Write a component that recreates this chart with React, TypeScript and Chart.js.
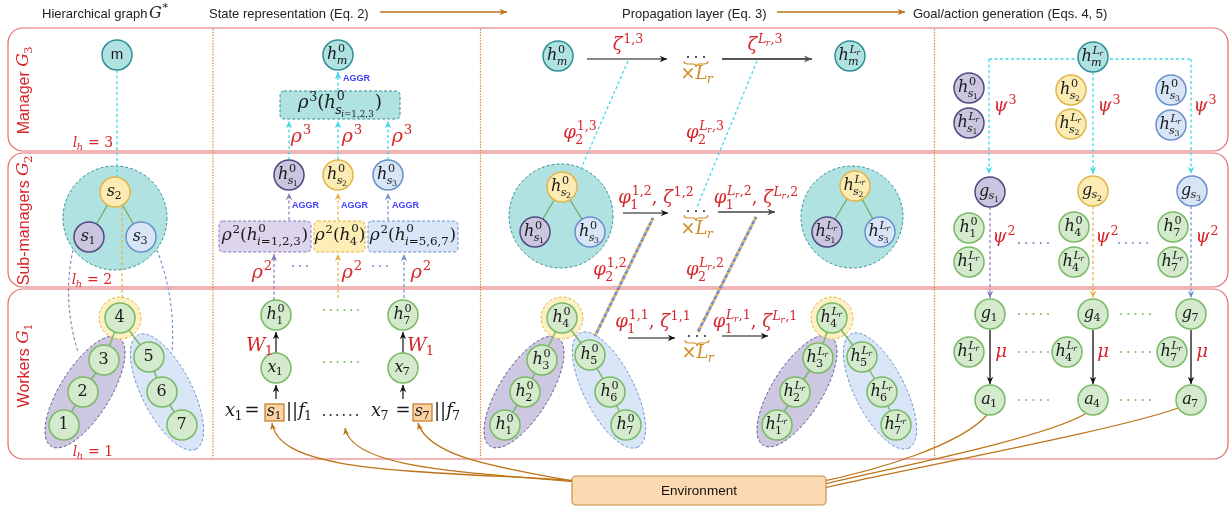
import React, { useEffect, useRef } from 'react';
import { Chart, registerables } from 'chart.js';

Chart.register(...registerables);

// ---------------- data ----------------
const headerTitles = ['Hierarchical graph', 'State representation (Eq. 2)', 'Propagation layer (Eq. 3)', 'Goal/action generation (Eqs. 4, 5)'];
const rowTitles = ['Manager', 'Sub-managers', 'Workers'];
const rowLevels = ['3', '2', '1'];
const envLabel = 'Environment';

type NodeRow = [number, number, string];

const tealNodes: NodeRow[] = [
  [117, 55, '#m'],
  [338, 55, 'h^0_m'],
  [558, 56, 'h^0_m'],
  [850, 56, 'h^{L_r}_m'],
  [1093, 57, 'h^{L_r}_m'],
];
const purpleNodes: NodeRow[] = [
  [89, 237, 's_1'],
  [289, 175, 'h^0_{s_1}'],
  [535, 232, 'h^0_{s_1}'],
  [827, 232, 'h^{L_r}_{s_1}'],
  [969, 88, 'h^0_{s_1}'],
  [969, 123, 'h^{L_r}_{s_1}'],
  [990, 192, 'g_{s_1}'],
];
const yellowNodes: NodeRow[] = [
  [115, 192, 's_2'],
  [338, 175, 'h^0_{s_2}'],
  [562, 187, 'h^0_{s_2}'],
  [855, 186, 'h^{L_r}_{s_2}'],
  [1071, 90, 'h^0_{s_2}'],
  [1071, 124, 'h^{L_r}_{s_2}'],
  [1093, 191, 'g_{s_2}'],
];
const blueNodes: NodeRow[] = [
  [141, 237, 's_3'],
  [388, 175, 'h^0_{s_3}'],
  [590, 232, 'h^0_{s_3}'],
  [880, 232, 'h^{L_r}_{s_3}'],
  [1171, 90, 'h^0_{s_3}'],
  [1171, 125, 'h^{L_r}_{s_3}'],
  [1192, 191, 'g_{s_3}'],
];
const greenNodes: NodeRow[] = [
  [64, 425, '1'], [83, 392, '2'], [104, 360, '3'], [120, 318, '4'], [149, 357, '5'], [162, 392, '6'], [182, 425, '7'],
  [276, 315, 'h^0_1'], [403, 315, 'h^0_7'], [276, 368, 'x_1'], [403, 368, 'x_7'],
  [505, 425, 'h^0_1'], [525, 392, 'h^0_2'], [542, 360, 'h^0_3'], [562, 318, 'h^0_4'], [590, 355, 'h^0_5'], [610, 392, 'h^0_6'], [626, 425, 'h^0_7'],
  [777, 425, 'h^{L_r}_1'], [795, 392, 'h^{L_r}_2'], [818, 358, 'h^{L_r}_3'], [832, 318, 'h^{L_r}_4'], [862, 357, 'h^{L_r}_5'], [882, 392, 'h^{L_r}_6'], [896, 425, 'h^{L_r}_7'],
  [969, 228, 'h^0_1'], [969, 262, 'h^{L_r}_1'], [1074, 227, 'h^0_4'], [1074, 262, 'h^{L_r}_4'], [1173, 227, 'h^0_7'], [1173, 262, 'h^{L_r}_7'],
  [990, 314, 'g_1'], [1093, 314, 'g_4'], [1191, 314, 'g_7'],
  [969, 352, 'h^{L_r}_1'], [1067, 352, 'h^{L_r}_4'], [1172, 352, 'h^{L_r}_7'],
  [990, 400, 'a_1'], [1093, 400, 'a_4'], [1191, 400, 'a_7'],
];
const treeEdges: [number, number][] = [[3, 2], [2, 1], [1, 0], [3, 4], [4, 5], [5, 6]];
const treeOffsets = [0, 11, 18];
const subgraphIdx = [0, 2, 3];

const redLabels: [number, number, string, number][] = [
  [93, 143, 'l_h = 3', 15], [92, 280, 'l_h = 2', 15], [93, 452, 'l_h = 1', 15],
  [301, 136, 'ρ^3', 20], [352, 136, 'ρ^3', 20], [402, 136, 'ρ^3', 20],
  [262, 272, 'ρ^2', 20], [352, 272, 'ρ^2', 20], [421, 272, 'ρ^2', 20],
  [260, 345, 'W_1', 20], [421, 345, 'W_1', 20],
  [628, 45, 'ζ^{1,3}', 19], [765, 45, 'ζ^{L_r,3}', 19],
  [580, 133, 'φ^{1,3}_2', 19], [705, 133, 'φ^{L_r,3}_2', 19],
  [656, 198, 'φ^{1,2}_1, ζ^{1,2}', 19], [756, 198, 'φ^{L_r,2}_1, ζ^{L_r,2}', 19],
  [610, 270, 'φ^{1,2}_2', 19], [705, 270, 'φ^{L_r,2}_2', 19],
  [653, 322, 'φ^{1,1}_1, ζ^{1,1}', 19], [755, 322, 'φ^{L_r,1}_1, ζ^{L_r,1}', 19],
  [1005, 106, 'ψ^3', 19], [1109, 106, 'ψ^3', 19], [1205, 106, 'ψ^3', 19],
  [1004, 237, 'ψ^2', 19], [1107, 237, 'ψ^2', 19], [1207, 237, 'ψ^2', 19],
  [1001, 352, 'μ', 19], [1103, 352, 'μ', 19], [1202, 352, 'μ', 19],
];
const aggrLabels: [number, number][] = [[343, 79], [292, 206], [341, 206], [392, 206]];

// ---------------- styles ----------------
const C = {
  red: '#d7262b', panel: '#e26a6a', sep: '#cf8a35', text: '#1a1a1a',
  teal: '#b0e2e2', tealS: '#2f8f96', purple: '#cbc5df', purpleS: '#4f4a80',
  yellow: '#fcecb3', yellowS: '#e2b54a', blue: '#d7e5f7', blueS: '#6a90cb',
  green: '#d3eacd', greenS: '#7bb966', cyan: '#3ddbe6', brown: '#bf7318',
  orange: '#d38b22', aggr: '#4040ff', pDash: '#8a78b8', yDash: '#e8b040', bDash: '#6b91cc',
};
const SERIF = '"DejaVu Serif", "Liberation Serif", serif';
const SANS = '"Liberation Sans", Arial, sans-serif';

// ---------------- math text ----------------
type Atom = { b: string; it: boolean; sup?: Atom[]; sub?: Atom[] };
const ITALIC_RE = /[A-Za-z\u03B1-\u03C9]/;
function parseMath(s: string): Atom[] {
  let i = 0;
  const grp = (): Atom[] => {
    const out: Atom[] = [];
    while (i < s.length) {
      const c = s[i];
      if (c === '}') { i++; break; }
      if (c === '^' || c === '_') {
        i++;
        let g: Atom[];
        if (s[i] === '{') { i++; g = grp(); } else { g = [{ b: s[i], it: ITALIC_RE.test(s[i]) }]; i++; }
        if (!out.length) out.push({ b: '', it: false });
        const last = out[out.length - 1];
        if (c === '^') last.sup = g; else last.sub = g;
        continue;
      }
      if (c === '{') { i++; out.push(...grp()); continue; }
      out.push({ b: c, it: ITALIC_RE.test(c) });
      i++;
    }
    return out;
  };
  return grp();
}
const mf = (size: number, it: boolean) => `${it ? 'italic ' : ''}${size}px ${SERIF}`;
function atomsWidth(ctx: CanvasRenderingContext2D, atoms: Atom[], size: number): number {
  let w = 0;
  for (const a of atoms) w += atomWidth(ctx, a, size);
  return w;
}
function atomWidth(ctx: CanvasRenderingContext2D, a: Atom, size: number): number {
  ctx.font = mf(size, a.it);
  const w = ctx.measureText(a.b).width;
  const ss = size * 0.7;
  const supW = a.sup ? atomsWidth(ctx, a.sup, ss) + (a.it ? size * 0.04 : 0) : 0;
  const subW = a.sub ? atomsWidth(ctx, a.sub, ss) : 0;
  return w + Math.max(supW, subW);
}
function drawAtoms(ctx: CanvasRenderingContext2D, atoms: Atom[], x: number, y: number, size: number) {
  for (const a of atoms) {
    ctx.font = mf(size, a.it);
    ctx.fillText(a.b, x, y);
    const bw = ctx.measureText(a.b).width;
    const ss = size * 0.7;
    if (a.sup) drawAtoms(ctx, a.sup, x + bw + (a.it ? size * 0.04 : 0), y - size * (a.sub ? 0.45 : 0.42), ss);
    if (a.sub) drawAtoms(ctx, a.sub, x + bw - (a.it ? size * 0.04 : 0), y + size * (a.sup ? 0.3 : 0.22), ss);
    x += atomWidth(ctx, a, size);
  }
}
function drawMath(ctx: CanvasRenderingContext2D, s: string, cx: number, cy: number, size: number, color: string, align: 'left' | 'center' | 'right' = 'center') {
  const atoms = parseMath(s);
  ctx.save();
  ctx.fillStyle = color;
  ctx.textAlign = 'left';
  ctx.textBaseline = 'alphabetic';
  const w = atomsWidth(ctx, atoms, size);
  const x0 = align === 'center' ? cx - w / 2 : align === 'right' ? cx - w : cx;
  drawAtoms(ctx, atoms, x0, cy + size * 0.3, size);
  ctx.restore();
  return w;
}

// ---------------- drawing helpers ----------------
function rr(ctx: CanvasRenderingContext2D, x: number, y: number, w: number, h: number, r: number) {
  ctx.beginPath();
  ctx.moveTo(x + r, y);
  ctx.lineTo(x + w - r, y);
  ctx.arcTo(x + w, y, x + w, y + r, r);
  ctx.lineTo(x + w, y + h - r);
  ctx.arcTo(x + w, y + h, x + w - r, y + h, r);
  ctx.lineTo(x + r, y + h);
  ctx.arcTo(x, y + h, x, y + h - r, r);
  ctx.lineTo(x, y + r);
  ctx.arcTo(x, y, x + r, y, r);
  ctx.closePath();
}
function seg(ctx: CanvasRenderingContext2D, x1: number, y1: number, x2: number, y2: number, color: string, width = 1.2, dash: number[] = []) {
  ctx.save();
  ctx.strokeStyle = color; ctx.lineWidth = width; ctx.setLineDash(dash);
  ctx.beginPath(); ctx.moveTo(x1, y1); ctx.lineTo(x2, y2); ctx.stroke();
  ctx.restore();
}
function head(ctx: CanvasRenderingContext2D, x1: number, y1: number, x2: number, y2: number, color: string, len = 6, wid = 3) {
  const a = Math.atan2(y2 - y1, x2 - x1);
  ctx.save();
  ctx.fillStyle = color; ctx.setLineDash([]);
  ctx.beginPath();
  ctx.moveTo(x2, y2);
  ctx.lineTo(x2 - len * Math.cos(a) + wid * Math.sin(a), y2 - len * Math.sin(a) - wid * Math.cos(a));
  ctx.lineTo(x2 - len * 0.7 * Math.cos(a), y2 - len * 0.7 * Math.sin(a));
  ctx.lineTo(x2 - len * Math.cos(a) - wid * Math.sin(a), y2 - len * Math.sin(a) + wid * Math.cos(a));
  ctx.closePath(); ctx.fill();
  ctx.restore();
}
function arrow(ctx: CanvasRenderingContext2D, x1: number, y1: number, x2: number, y2: number, color: string, width = 1.2, dash: number[] = []) {
  seg(ctx, x1, y1, x2, y2, color, width, dash);
  head(ctx, x1, y1, x2, y2, color, 6 + width, 2.6 + width * 0.5);
}
function dots(ctx: CanvasRenderingContext2D, x1: number, x2: number, y: number, n: number, color: string, r = 1) {
  ctx.save(); ctx.fillStyle = color;
  for (let i = 0; i < n; i++) {
    const x = x1 + (x2 - x1) * (n === 1 ? 0 : i / (n - 1));
    ctx.beginPath(); ctx.arc(x, y, r, 0, Math.PI * 2); ctx.fill();
  }
  ctx.restore();
}

// ---------------- plugin ----------------
const diagramPlugin = {
  id: 'diagram',
  beforeDatasetsDraw(chart: any) {
    const ctx: CanvasRenderingContext2D = chart.ctx;
    const X = (v: number) => chart.scales.x.getPixelForValue(v);
    const Y = (v: number) => chart.scales.y.getPixelForValue(v);
    ctx.save();

    // panels
    ctx.strokeStyle = C.panel; ctx.lineWidth = 1.2;
    [[28, 151], [153, 287], [289, 459]].forEach(([t, b]) => {
      rr(ctx, X(8), Y(t), X(1228) - X(8), Y(b) - Y(t), 15); ctx.stroke();
    });
    // separators
    [213, 480.5, 934.5].forEach((x) => seg(ctx, X(x), Y(29), X(x), Y(458), C.sep, 1.2, [1.4, 1.4]));

    // headers
    ctx.fillStyle = '#222'; ctx.font = `13px ${SANS}`; ctx.textBaseline = 'alphabetic'; ctx.textAlign = 'left';
    ctx.fillText(headerTitles[0], X(42), Y(18));
    drawMath(ctx, 'G^*', X(149), Y(13), 16, '#222', 'left');
    ctx.font = `13px ${SANS}`; ctx.fillStyle = '#222';
    ctx.fillText(headerTitles[1], X(209), Y(18));
    ctx.fillText(headerTitles[2], X(622), Y(18));
    ctx.fillText(headerTitles[3], X(913), Y(18));
    arrow(ctx, X(380), Y(12), X(507), Y(12), C.brown, 1.5);
    arrow(ctx, X(777), Y(12), X(905), Y(12), C.brown, 1.5);

    // row titles (rotated)
    [[90, 0], [220, 1], [365, 2]].forEach(([cy, k]) => {
      ctx.save();
      ctx.translate(X(23), Y(cy));
      ctx.rotate(-Math.PI / 2);
      ctx.font = `16px ${SANS}`;
      const t = rowTitles[k] + ' ';
      const tw = ctx.measureText(t).width;
      const gw = atomsWidth(ctx, parseMath('G_' + rowLevels[k]), 17);
      const x0 = -(tw + gw) / 2;
      ctx.fillStyle = C.red; ctx.font = `16px ${SANS}`; ctx.textBaseline = 'alphabetic';
      ctx.fillText(t, x0, 5.5);
      drawMath(ctx, 'G_' + rowLevels[k], x0 + tw, 0, 17, C.red, 'left');
      ctx.restore();
    });

    // big teal circles
    [[115, 218, 52], [561, 216, 52], [852, 217, 51]].forEach(([x, y, r]) => {
      ctx.save();
      ctx.beginPath(); ctx.arc(X(x), Y(y), r, 0, Math.PI * 2);
      ctx.fillStyle = C.teal; ctx.fill();
      ctx.setLineDash([3, 2]); ctx.strokeStyle = C.tealS; ctx.lineWidth = 1; ctx.stroke();
      ctx.restore();
    });
    // ellipses
    const ell = (x: number, y: number, a: number, b: number, deg: number, fill: string, stroke: string) => {
      ctx.save();
      ctx.beginPath(); ctx.ellipse(X(x), Y(y), a, b, (deg * Math.PI) / 180, 0, Math.PI * 2);
      ctx.fillStyle = fill; ctx.fill();
      ctx.setLineDash([3, 2]); ctx.strokeStyle = stroke; ctx.lineWidth = 1; ctx.stroke();
      ctx.restore();
    };
    [[85, 392], [524, 392], [797, 391]].forEach(([x, y]) => ell(x, y, 64, 25, -58, '#cdc7e1', '#5a5690'));
    [[167, 392], [609, 390], [880, 391]].forEach(([x, y]) => ell(x, y, 64, 25, 63, '#d8e6f8', '#6b91cc'));
    // halos
    [[120, 318], [562, 318], [832, 318]].forEach(([x, y]) => {
      ctx.save();
      ctx.beginPath(); ctx.arc(X(x), Y(y), 21, 0, Math.PI * 2);
      ctx.fillStyle = '#fdf0c2'; ctx.fill();
      ctx.setLineDash([3, 2]); ctx.strokeStyle = '#e3b648'; ctx.lineWidth = 1; ctx.stroke();
      ctx.restore();
    });

    // tree edges
    treeOffsets.forEach((o) => treeEdges.forEach(([a, b]) => {
      const p = greenNodes[o + a], q = greenNodes[o + b];
      seg(ctx, X(p[0]), Y(p[1]), X(q[0]), Y(q[1]), C.greenS, 1.5);
    }));
    subgraphIdx.forEach((k) => {
      const s = yellowNodes[k];
      [purpleNodes[k], blueNodes[k]].forEach((t) => seg(ctx, X(s[0]), Y(s[1]), X(t[0]), Y(t[1]), '#78a85c', 1.3));
    });

    // connectors
    const dsh = [3, 2.5];
    const cy = C.cyan;
    seg(ctx, X(117), Y(70), X(117), Y(177), cy, 1.3, dsh);
    arrow(ctx, X(338), Y(91), X(338), Y(72), cy, 1.3, dsh);
    [289, 338, 388].forEach((x) => arrow(ctx, X(x), Y(160), X(x), Y(121), cy, 1.3, dsh));
    seg(ctx, X(628), Y(61), X(580), Y(171), cy, 1.3, dsh);
    seg(ctx, X(757), Y(61), X(697), Y(207), cy, 1.3, dsh);
    seg(ctx, X(989), Y(59), X(1191), Y(59), cy, 1.3, dsh);
    arrow(ctx, X(989), Y(59), X(989), Y(174), cy, 1.3, dsh);
    arrow(ctx, X(1093), Y(72), X(1093), Y(174), cy, 1.3, dsh);
    arrow(ctx, X(1191), Y(59), X(1191), Y(174), cy, 1.3, dsh);

    // left hierarchical dashed links
    const qcurve = (x1: number, y1: number, cx: number, cyy: number, x2: number, y2: number, col: string) => {
      ctx.save(); ctx.strokeStyle = col; ctx.lineWidth = 1.1; ctx.setLineDash([3, 2.5]);
      ctx.beginPath(); ctx.moveTo(X(x1), Y(y1)); ctx.quadraticCurveTo(X(cx), Y(cyy), X(x2), Y(y2)); ctx.stroke();
      ctx.restore();
    };
    qcurve(73, 250, 62, 300, 78, 352, C.pDash);
    qcurve(157, 250, 176, 300, 172, 352, C.bDash);
    seg(ctx, X(122), Y(207), X(122), Y(298), C.yDash, 1.2, dsh);

    // state representation dashed arrows
    arrow(ctx, X(289), Y(220), X(289), Y(193), C.pDash, 1.2, dsh);
    arrow(ctx, X(338), Y(220), X(338), Y(193), C.yDash, 1.2, dsh);
    arrow(ctx, X(388), Y(220), X(388), Y(193), C.bDash, 1.2, dsh);
    arrow(ctx, X(274), Y(300), X(274), Y(254), C.pDash, 1.2, dsh);
    arrow(ctx, X(338), Y(298), X(338), Y(254), C.yDash, 1.2, dsh);
    arrow(ctx, X(404), Y(298), X(404), Y(254), C.bDash, 1.2, dsh);

    // state rep boxes
    const box = (x: number, y: number, w: number, h: number, fill: string, stroke: string) => {
      ctx.save();
      rr(ctx, X(x), Y(y), w, h, 4);
      ctx.fillStyle = fill; ctx.fill();
      ctx.setLineDash([3, 2]); ctx.strokeStyle = stroke; ctx.lineWidth = 1; ctx.stroke();
      ctx.restore();
    };
    box(280, 91, 120, 28, C.teal, C.tealS);
    box(219, 221, 92, 31, '#ddd5eb', '#8a78b8');
    box(314, 221, 51, 31, '#fdeeb8', '#e0b040');
    box(368, 221, 90, 31, '#d8e6f8', '#6b91cc');

    // goal column dashed arrows
    arrow(ctx, X(990), Y(207), X(990), Y(298), C.pDash, 1.2, dsh);
    arrow(ctx, X(1093), Y(206), X(1093), Y(298), C.yDash, 1.2, dsh);
    arrow(ctx, X(1191), Y(206), X(1191), Y(298), C.bDash, 1.2, dsh);

    // multicolour dashed links
    const multi = (x1: number, y1: number, x2: number, y2: number) => {
      ['#8078b0', '#e8b840', '#7a9ad0'].forEach((col, k) => {
        ctx.save(); ctx.strokeStyle = col; ctx.lineWidth = 3; ctx.setLineDash([2, 4]); ctx.lineDashOffset = -2 * k;
        ctx.beginPath(); ctx.moveTo(X(x1), Y(y1)); ctx.lineTo(X(x2), Y(y2)); ctx.stroke(); ctx.restore();
      });
    };
    multi(653, 218, 595, 336);
    multi(756, 217, 698, 332);

    // solid arrows
    const blk = '#111';
    arrow(ctx, X(276), Y(353), X(276), Y(332), blk, 1.2);
    arrow(ctx, X(403), Y(353), X(403), Y(332), blk, 1.2);
    arrow(ctx, X(276), Y(399), X(276), Y(385), blk, 1.2);
    arrow(ctx, X(403), Y(399), X(403), Y(385), blk, 1.2);
    arrow(ctx, X(587), Y(59), X(667), Y(59), blk, 1.2);
    arrow(ctx, X(722), Y(59), X(812), Y(59), '#555', 2);
    arrow(ctx, X(623), Y(213), X(668), Y(213), blk, 1.2);
    arrow(ctx, X(718), Y(212), X(775), Y(212), '#444', 1.5);
    arrow(ctx, X(628), Y(338), X(675), Y(338), blk, 1.2);
    arrow(ctx, X(722), Y(336), X(768), Y(336), blk, 1.2);
    [990, 1093, 1191].forEach((x) => arrow(ctx, X(x), Y(330), X(x), Y(384), blk, 1.3));

    // environment curves
    const bez = (pts: number[], col: string, headAtStart: boolean) => {
      ctx.save(); ctx.strokeStyle = col; ctx.lineWidth = 1.3; ctx.setLineDash([]);
      ctx.beginPath(); ctx.moveTo(X(pts[0]), Y(pts[1]));
      ctx.bezierCurveTo(X(pts[2]), Y(pts[3]), X(pts[4]), Y(pts[5]), X(pts[6]), Y(pts[7]));
      ctx.stroke(); ctx.restore();
      if (headAtStart) head(ctx, X(pts[2]), Y(pts[3]), X(pts[0]), Y(pts[1]), col, 7, 3);
    };
    bez([272, 423, 280, 475, 420, 470, 598, 482], C.brown, true);
    bez([345, 428, 352, 470, 470, 472, 600, 484], C.brown, true);
    bez([418, 423, 430, 462, 520, 470, 603, 487], C.brown, true);
    bez([987, 415, 960, 445, 880, 470, 810, 484], C.brown, false);
    bez([1085, 414, 1040, 440, 880, 470, 812, 487], C.brown, false);
    bez([1181, 407, 1120, 430, 900, 470, 815, 490], C.brown, false);

    ctx.restore();
  },
  afterDatasetsDraw(chart: any) {
    const ctx: CanvasRenderingContext2D = chart.ctx;
    const X = (v: number) => chart.scales.x.getPixelForValue(v);
    const Y = (v: number) => chart.scales.y.getPixelForValue(v);
    ctx.save();

    // node labels
    chart.data.datasets.forEach((ds: any, i: number) => {
      const meta = chart.getDatasetMeta(i);
      meta.data.forEach((el: any, j: number) => {
        const lbl: string = ds.data[j].label;
        if (lbl.startsWith('#')) {
          ctx.save();
          ctx.fillStyle = C.text; ctx.font = `15px ${SANS}`; ctx.textAlign = 'center'; ctx.textBaseline = 'middle';
          ctx.fillText(lbl.slice(1), el.x, el.y);
          ctx.restore();
        } else {
          drawMath(ctx, lbl, el.x - 0.5, el.y - 1, 16, C.text, 'center');
        }
      });
    });

    // red labels
    redLabels.forEach(([x, y, s, size]) => drawMath(ctx, s, X(x), Y(y), size - 1, C.red, 'center'));

    // AGGR
    ctx.save();
    ctx.fillStyle = C.aggr; ctx.font = `bold 9px ${SANS}`; ctx.textBaseline = 'middle'; ctx.textAlign = 'left';
    aggrLabels.forEach(([x, y]) => ctx.fillText('AGGR', X(x), Y(y)));
    ctx.restore();

    // box texts
    drawMath(ctx, 'ρ^3(h^0_{s_{i=1,2,3}})', X(340), Y(103), 18, C.text);
    drawMath(ctx, 'ρ^2(h^0_{i=1,2,3})', X(265), Y(235), 17, C.text);
    drawMath(ctx, 'ρ^2(h^0_4)', X(340), Y(235), 17, C.text);
    drawMath(ctx, 'ρ^2(h^0_{i=5,6,7})', X(413), Y(235), 17, C.text);

    // equations
    const eqY = 411;
    const sBox = (x: number, lbl: string) => {
      ctx.save();
      ctx.fillStyle = '#fcd3a2'; ctx.strokeStyle = '#c07820'; ctx.lineWidth = 1.2;
      ctx.fillRect(X(x), Y(404), 19, 17); ctx.strokeRect(X(x), Y(404), 19, 17);
      ctx.restore();
      drawMath(ctx, lbl, X(x) + 9.5, Y(eqY), 16, C.text, 'center');
    };
    drawMath(ctx, 'x_1', X(225), Y(eqY), 18, C.text, 'left');
    drawMath(ctx, '=', X(252), Y(eqY), 18, C.text, 'center');
    sBox(265, 's_1');
    drawMath(ctx, '||f_1', X(286), Y(eqY), 18, C.text, 'left');
    dots(ctx, X(324), X(357), Y(415), 6, '#222', 1);
    drawMath(ctx, 'x_7', X(371), Y(eqY), 18, C.text, 'left');
    drawMath(ctx, '=', X(403), Y(eqY), 18, C.text, 'center');
    sBox(413, 's_7');
    drawMath(ctx, '||f_7', X(434), Y(eqY), 18, C.text, 'left');

    // dotted ellipses
    dots(ctx, X(324), X(358), Y(310), 6, C.greenS, 1);
    dots(ctx, X(324), X(358), Y(362), 6, C.greenS, 1);
    dots(ctx, X(293), X(307), Y(266), 3, C.pDash, 1);
    dots(ctx, X(373), X(387), Y(266), 3, C.bDash, 1);
    dots(ctx, X(1019), X(1048), Y(243), 5, C.pDash, 1);
    dots(ctx, X(1119), X(1147), Y(243), 5, C.bDash, 1);
    [314, 352, 400].forEach((y) => {
      dots(ctx, X(1019), X(1048), Y(y), 5, C.greenS, 1);
      dots(ctx, X(1121), X(1150), Y(y), 5, C.greenS, 1);
    });

    // repetition marks "··· ×Lr"
    const rep = (x: number, y: number, ly: number) => {
      dots(ctx, X(x - 8), X(x + 8), Y(y), 3, '#222', 1);
      ctx.save(); ctx.strokeStyle = C.orange; ctx.lineWidth = 1.2;
      const bx = X(x), by = Y(y + 4);
      ctx.beginPath();
      ctx.moveTo(bx - 12, by); ctx.quadraticCurveTo(bx - 12, by + 3, bx - 8, by + 3);
      ctx.lineTo(bx - 3, by + 3); ctx.quadraticCurveTo(bx, by + 3, bx, by + 6);
      ctx.quadraticCurveTo(bx, by + 3, bx + 3, by + 3); ctx.lineTo(bx + 8, by + 3);
      ctx.quadraticCurveTo(bx + 12, by + 3, bx + 12, by);
      ctx.stroke(); ctx.restore();
      drawMath(ctx, '×L_r', X(x + 1), Y(ly), 18, C.orange, 'center');
    };
    rep(696, 57, 74);
    rep(696, 211, 229);
    rep(697, 336, 353);

    // environment box
    ctx.save();
    rr(ctx, X(572), Y(476), X(826) - X(572), Y(505) - Y(476), 4);
    ctx.fillStyle = '#fcd9b0'; ctx.fill();
    ctx.strokeStyle = '#c8904a'; ctx.lineWidth = 1.2; ctx.stroke();
    ctx.fillStyle = '#111'; ctx.font = `13.5px ${SANS}`; ctx.textAlign = 'center'; ctx.textBaseline = 'middle';
    ctx.fillText(envLabel, X(699), Y(491));
    ctx.restore();

    ctx.restore();
  },
};

// ---------------- component ----------------
const groups: { nodes: NodeRow[]; fill: string; stroke: string }[] = [
  { nodes: tealNodes, fill: C.teal, stroke: C.tealS },
  { nodes: purpleNodes, fill: C.purple, stroke: C.purpleS },
  { nodes: yellowNodes, fill: C.yellow, stroke: C.yellowS },
  { nodes: blueNodes, fill: C.blue, stroke: C.blueS },
  { nodes: greenNodes, fill: C.green, stroke: C.greenS },
];

export default function App() {
  const ref = useRef<HTMLCanvasElement>(null);
  useEffect(() => {
    const chart = new Chart(ref.current as HTMLCanvasElement, {
      type: 'scatter',
      data: {
        datasets: groups.map((g) => ({
          data: g.nodes.map((n) => ({ x: n[0], y: n[1], label: n[2] })),
          pointRadius: 15,
          pointHoverRadius: 15,
          pointBackgroundColor: g.fill,
          pointBorderColor: g.stroke,
          pointBorderWidth: 1.5,
          clip: false as any,
        })) as any,
      },
      options: {
        responsive: false,
        maintainAspectRatio: false,
        animation: false,
        events: [],
        layout: { padding: 0, autoPadding: false },
        plugins: { legend: { display: false }, tooltip: { enabled: false } },
        scales: {
          x: { type: 'linear', min: 0, max: 1230, display: false },
          y: { type: 'linear', min: 0, max: 515, reverse: true, display: false },
        },
      },
      plugins: [diagramPlugin as any],
    });
    return () => chart.destroy();
  }, []);
  return (
    <div style={{ position: 'absolute', left: 0, top: 0, width: 1230, height: 515, background: '#fff' }}>
      <canvas ref={ref} width={1230} height={515} style={{ display: 'block', width: 1230, height: 515 }} />
    </div>
  );
}
